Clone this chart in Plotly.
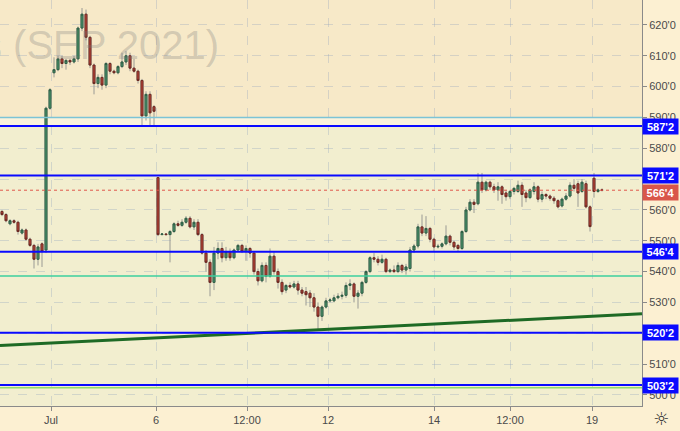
import plotly.graph_objects as go

# Hourly candles, corn futures (SEP 2021)
opens = [
    559.5, 558.5, 555.5, 556.5, 556, 552.5, 553.5, 550.5, 548.5, 544,
    549, 547, 593, 604.5, 605.5, 609, 607.5, 608.5, 608, 609,
    619, 623.5, 616, 607, 601, 603, 600.5, 607.5, 605, 604.5,
    606.5, 608, 610, 606, 605, 602, 590.5, 597.5, 593.5, 570.5,
    552, 552.2, 552, 553, 555.5, 555, 556, 557.3, 554.5, 556,
    552, 546, 543, 536.5, 546, 547.5, 544.5, 546.5, 544.5, 547,
    548.5, 546.5, 547.5, 546, 540, 537, 542, 538.5, 545, 540,
    536.5, 534, 535.5, 535, 536, 534, 533.5, 533, 531.5, 528.5,
    525.5, 528.5, 530.5, 530.5, 531.5, 532, 532.3, 535.5, 536, 532,
    533, 536.5, 540, 544.5, 544, 543, 544, 540, 540.5, 540,
    542, 540.5, 541, 547, 548.3, 554.5, 552.5, 554, 550.5, 548,
    548.2, 549, 551.5, 549.5, 548.5, 547.5, 553, 560, 562.5, 562,
    569, 566.5, 569, 567.5, 566.5, 567.5, 565.5, 564.3, 566, 566,
    568, 565.5, 564, 566, 567.5, 563.5, 565, 564.5, 563.8, 563,
    561.3, 563.5, 564.5, 568, 568.5, 566, 568.5, 561, 570.3, 566,
    566.5,
]
highs = [
    560, 559, 557, 557, 556.5, 554, 554, 551, 549, 549,
    549.5, 593.5, 599.5, 609.5, 610, 610, 609, 609, 610, 619.5,
    625.5, 625, 616.5, 607.5, 604, 604, 608, 608, 605.5, 607,
    611, 611.5, 611, 609, 605.5, 602.5, 598.5, 598.5, 594, 570.5,
    552.5, 552.5, 553.5, 556, 556.5, 557, 558, 558, 557, 557,
    552.5, 547, 544, 548, 549.5, 549.5, 548, 547.5, 547.5, 549,
    549, 548.5, 548, 546.5, 541, 543, 543, 547.5, 546.5, 541,
    537.5, 536, 536.5, 537, 537, 535, 535, 534, 533, 530,
    529, 531.5, 531.5, 532.5, 533, 533.5, 536.5, 537.5, 536.5, 534,
    537, 540.5, 545, 546, 545, 545.5, 544.5, 541, 542, 543,
    542.5, 542.5, 548, 549, 555.5, 558.5, 558, 554.5, 551, 549,
    549.5, 555, 552, 550, 549, 553.5, 561, 563.5, 563.5, 572,
    572, 569.5, 569.5, 568.5, 569, 568, 566.5, 566.5, 567.5, 569.5,
    569, 566.5, 567, 569, 568, 566, 565.5, 565, 564.5, 563.5,
    564, 565.5, 569, 570, 569.5, 570, 569.5, 561.5, 572, 567,
    567,
]
lows = [
    558, 556, 555, 555.5, 552, 552, 550, 548, 541, 542,
    541.5, 546, 592.5, 603, 605, 606, 605.5, 607, 607.5, 608,
    618, 615, 606, 597.5, 599.5, 599, 599.5, 604, 604, 604,
    606, 607, 605, 604.5, 601, 587.5, 589, 587.5, 587.5, 551.5,
    551.8, 551.8, 543, 552.5, 554.5, 554.5, 555.5, 554, 553.5, 551.5,
    545.5, 540, 532, 534, 544, 543, 543.5, 543.5, 544, 546.5,
    546, 543.5, 544.5, 539, 535.5, 536.5, 536.5, 538, 539, 534.5,
    532.5, 533, 534.5, 534.5, 532.5, 532, 529, 528.5, 527, 521,
    524, 528, 530, 530, 531, 531, 531.5, 534, 530, 528,
    532, 536, 539.5, 543, 542, 542.5, 539.5, 539.5, 539.5, 539.5,
    539.5, 539, 540, 546, 547.5, 551.5, 551.5, 549.5, 546.5, 547.5,
    547.5, 548.5, 548.5, 547, 546.5, 547, 552.5, 559.5, 559, 561.5,
    565.5, 566, 566.5, 565.5, 563, 562, 563, 563.5, 565, 565.5,
    561, 562.5, 563.5, 565, 562.5, 562.5, 563.5, 563, 562, 560.5,
    560.8, 563, 564, 566, 561, 565.5, 560.5, 553, 564, 565.5,
    566,
]
closes = [
    558.5, 556.5, 556.5, 556, 553, 553.5, 550.5, 548.5, 544, 548,
    546.5, 593, 599, 605.5, 609, 607.5, 608.5, 608, 609, 619,
    623.5, 616, 607, 601, 603, 600.5, 607.5, 605, 604.5, 606.5,
    608, 610, 606, 605, 602, 590.5, 597.5, 591.5, 592, 552,
    552.2, 552, 553, 555.5, 555, 556, 557.3, 554.5, 556, 552,
    546, 543, 536.5, 546, 547.5, 544.5, 546.5, 544.5, 547, 548.5,
    546.5, 547.5, 546, 540, 537, 542, 538.5, 545, 540, 536.5,
    533.5, 535.5, 535, 536, 534, 533, 532.5, 531.5, 528.5, 525.5,
    528.5, 530.5, 530.8, 531.5, 532, 532.3, 535.5, 536, 532, 533,
    536.5, 540, 544.5, 544, 543, 544, 540, 540.5, 540, 542,
    540.5, 541.5, 547, 548.3, 554.5, 552.5, 554, 550.5, 548, 548.2,
    549, 551.5, 549.5, 548, 547.5, 553, 560, 562.5, 561.8, 569,
    566.5, 569, 567.5, 566.5, 567.5, 565, 564.3, 566, 567, 568,
    565, 564, 566.5, 567.5, 563.5, 565, 564.5, 563.8, 563, 561,
    563.5, 564.5, 568, 567, 565.5, 569, 561, 554.6, 566, 566.5,
    566.4,
]
bars = list(range(len(opens)))

# drawn levels
blue_levels = [587.2, 571.2, 546.4, 520.2, 503.2]
blue_labels = ["587'2", "571'2", "546'4", "520'2", "503'2"]
last_price = 566.4
last_label = "566'4"
thin_levels = [590.0, 538.6, 502.3]
thin_colors = ["#7cc4d6", "#3ccf9e", "#8fdb6c"]
trend_start = 516.0   # at left edge
trend_end = 526.3     # at right edge

# axes
y_range = [496.4, 628.1]
x_range = [-0.5, 160]
y_ticks = [500, 510, 520, 530, 540, 550, 560, 570, 580, 590, 600, 610, 620]
y_ticktext = [f"{v}'0" for v in y_ticks]
x_ticks = [12.25, 38.5, 61.25, 81.5, 108, 127, 147.5]
x_ticktext = ["Jul", "6", "12:00", "12", "14", "12:00", "19"]

fig = go.Figure()

# wicks (grey) + bodies
fig.add_trace(go.Candlestick(
    x=bars, open=opens, high=highs, low=lows, close=closes,
    increasing=dict(line=dict(color="#9a9a94", width=1), fillcolor="#4f9a72"),
    decreasing=dict(line=dict(color="#9a9a94", width=1), fillcolor="#c4473a"),
    showlegend=False, hoverinfo="skip",
))
body_hi = [max(o, c) for o, c in zip(opens, closes)]
body_lo = [min(o, c) for o, c in zip(opens, closes)]
fig.add_trace(go.Candlestick(
    x=bars, open=opens, high=body_hi, low=body_lo, close=closes,
    increasing=dict(line=dict(color="#2f5f45", width=1), fillcolor="#4f9a72"),
    decreasing=dict(line=dict(color="#6e2a22", width=1), fillcolor="#c4473a"),
    showlegend=False, hoverinfo="skip",
))

shapes = [
    # background zones
    dict(type="rect", xref="paper", yref="y", x0=0, x1=1, y0=590, y1=y_range[1],
         fillcolor="#f7e9c8", line_width=0, layer="below"),
    dict(type="rect", xref="paper", yref="y", x0=0, x1=1, y0=587.2, y1=590,
         fillcolor="#fbf3dc", line_width=0, layer="below"),
]
for lvl, col in zip(thin_levels, thin_colors):
    shapes.append(dict(type="line", xref="paper", yref="y", x0=0, x1=1, y0=lvl, y1=lvl,
                       line=dict(color=col, width=1.5), layer="above"))
shapes.append(dict(type="line", xref="paper", yref="y", x0=0, x1=1,
                   y0=trend_start, y1=trend_end,
                   line=dict(color="#1e6a25", width=3), layer="above"))
for lvl in blue_levels:
    shapes.append(dict(type="line", xref="paper", yref="y", x0=0, x1=1, y0=lvl, y1=lvl,
                       line=dict(color="#0a0aff", width=2), layer="above"))
shapes.append(dict(type="line", xref="paper", yref="y", x0=0, x1=1,
                   y0=last_price, y1=last_price,
                   line=dict(color="#e0574b", width=1, dash="dot"), layer="above"))

annotations = [
    dict(text="s (SEP 2021)", xref="paper", yref="paper", x=221 / 642, y=1 - 45 / 406,
         xanchor="right", yanchor="middle", showarrow=False,
         font=dict(size=40, color="rgba(125,125,125,0.3)", family="Liberation Sans")),
    dict(text="☼", xref="paper", yref="paper", x=661 / 642, y=1 - 418 / 406,
         xanchor="center", yanchor="middle", showarrow=False,
         font=dict(size=18, color="#333333", family="DejaVu Sans")),
]
for lvl, txt in zip(blue_levels, blue_labels):
    annotations.append(dict(
        text=f"<b>{txt}</b>", xref="paper", yref="y", x=1, y=lvl, xanchor="left",
        yanchor="middle", showarrow=False, bgcolor="#0a0aff", width=33, height=13,
        borderpad=1, font=dict(size=11, color="white", family="Liberation Sans")))
annotations.append(dict(
    text=f"<b>{last_label}</b>", xref="paper", yref="y", x=1, y=last_price - 0.9,
    xanchor="left", yanchor="middle", showarrow=False, bgcolor="#d9564a", width=33,
    height=13, borderpad=1, font=dict(size=11, color="white", family="Liberation Sans")))

fig.update_layout(
    width=680, height=431,
    margin=dict(l=0, r=38, t=0, b=25),
    paper_bgcolor="#fcf0d2",
    plot_bgcolor="#f2eecf",
    font=dict(family="Liberation Sans", size=11, color="#4a4a4a"),
    shapes=shapes,
    annotations=annotations,
    showlegend=False,
)
fig.update_xaxes(
    range=x_range, rangeslider_visible=False,
    tickvals=x_ticks, ticktext=x_ticktext,
    showgrid=True, gridcolor="rgba(150,165,190,0.35)", griddash="dash",
    showline=True, linecolor="#8a8a8a", linewidth=1,
    ticks="outside", ticklen=4, tickcolor="#8a8a8a",
    zeroline=False,
)
fig.update_yaxes(
    range=y_range, side="right",
    tickvals=y_ticks, ticktext=y_ticktext,
    showgrid=True, gridcolor="rgba(150,165,190,0.35)", griddash="dash",
    showline=True, linecolor="#8a8a8a", linewidth=1,
    ticks="outside", ticklen=4, tickcolor="#8a8a8a",
    zeroline=False,
)

# page body has a default margin; drop it so the 680x431 figure fills the window
fig.write_html(
    "out.html",
    config={"displayModeBar": False},
    post_script="document.body.style.margin='0';",
)
